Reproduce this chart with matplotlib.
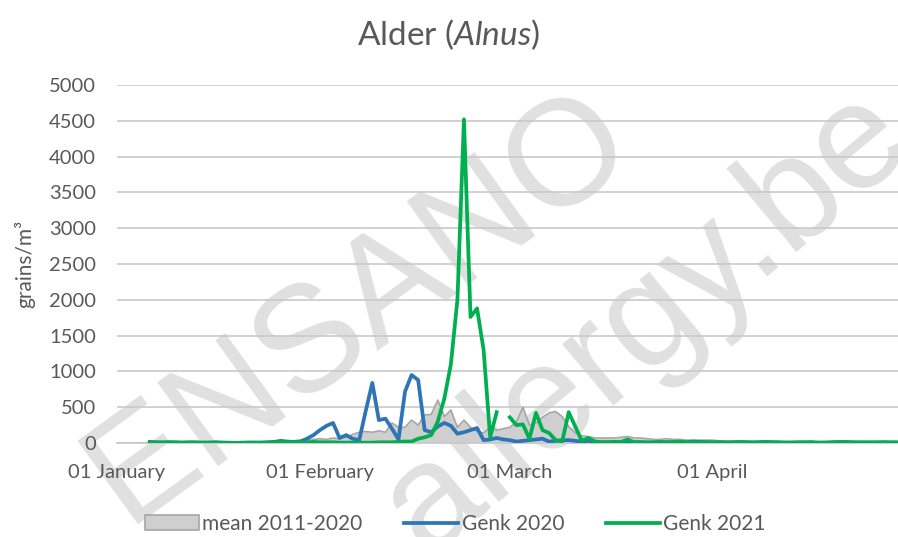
import numpy as np
import matplotlib
matplotlib.use("Agg")
import matplotlib.pyplot as plt
from matplotlib.patches import Patch
from matplotlib.lines import Line2D

plt.rcParams['font.family'] = ['Lato', 'DejaVu Sans']
plt.rcParams['mathtext.fontset'] = 'custom'
plt.rcParams['mathtext.rm'] = 'Lato'
plt.rcParams['mathtext.it'] = 'Lato:italic'

# day index 0 = 1 January (leap-year calendar as on the axis)
days = np.arange(120)
tick_days = [0, 31, 60, 91]
tick_labels = ["01 January", "01 February", "01 March", "01 April"]

mean_2011_2020 = [
    0, 0, 0, 0, 0, 5, 5, 5, 5, 5,
    5, 5, 5, 5, 5, 5, 5, 5, 5, 5,
    5, 10, 10, 15, 20, 25, 20, 30, 40, 40,
    50, 60, 50, 70, 60, 80, 120, 150, 160, 150,
    170, 150, 280, 220, 220, 320, 250, 390, 400, 600,
    370, 460, 220, 320, 220, 160, 140, 220, 180, 200,
    220, 290, 500, 250, 280, 360, 420, 440, 370, 230,
    140, 100, 90, 70, 70, 70, 70, 80, 90, 70,
    70, 60, 50, 50, 60, 50, 50, 40, 40, 40,
    40, 40, 30, 30, 30, 30, 30, 25, 25, 25,
    20, 20, 20, 20, 20, 20, 15, 15, 15, 15,
    15, 15, 10, 10, 10, 10, 10, 10, 10, 10,
]

genk_2020 = [
    None, None, None, None, None, 15, 10, 5, 10, 10,
    5, 5, 5, 5, 5, 10, 5, 0, 0, 5,
    5, 5, 5, 10, 15, 30, 20, 15, 20, 60,
    110, 180, 240, 280, 70, 110, 60, 40, 450, 840,
    320, 340, 200, 50, 720, 950, 880, 180, 150, 230,
    280, 240, 130, 150, 180, 210, 40, 50, 70, 50,
    40, 20, 30, 40, 50, 60, 20, 30, 40, 40,
    30, 20, 30, 20, 10, 10, 15, 10, 20, 10,
    10, 5, 10, 15, 10, 10, 5, 10, 20, 15,
    10, 5, 10, 5, 5, 10, 5, 5, 10, 15,
    10, 5, 5, 5, 5, 5, 10, 5, 5, 5,
    10, 15, 10, 5, 5, 5, 5, 10, 5, 5,
]

genk_2021 = [
    None, None, None, None, None, 10, 5, 10, 10, 5,
    5, 10, 10, 5, 5, 5, 5, 5, 0, 0,
    5, 5, 5, 5, 10, 15, 10, 10, 10, 10,
    15, 10, 10, 10, 5, 5, 5, 5, 5, 5,
    10, 10, 10, 15, 20, 20, 60, 80, 110, 300,
    620, 1100, 2000, 4520, 1760, 1880, 1300, 80, 430, None,
    360, 250, 260, 60, 420, 180, 140, 40, 20, 430,
    230, 30, 70, 20, 10, 10, 10, 15, 50, 10,
    10, 10, 5, 10, 10, 15, 20, 10, 10, 10,
    10, 10, 10, 5, 5, 10, 10, 5, 5, 10,
    10, 10, 5, 5, 10, 10, 10, 5, 5, 10,
    15, 10, 10, 10, 10, 10, 10, 10, 10, 10,
]

mean_vals = np.array(mean_2011_2020, dtype=float)
g20 = np.array(genk_2020, dtype=float)
g21 = np.array(genk_2021, dtype=float)

txt = '#595959'
fig = plt.figure(figsize=(8.98, 5.37), dpi=100)
ax = fig.add_axes([117 / 898, 1 - 443 / 537, 1 - 117 / 898, (443 - 85) / 537])
ax.patch.set_alpha(0)

# watermark
fig.text(0.40, 0.43, "ENSANO", rotation=36, fontsize=108, color='#e0e0e0',
         family='Liberation Sans', ha='center', va='center', zorder=-5)
fig.text(0.72, 0.40, "allergy.be", rotation=40, fontsize=108, color='#e0e0e0',
         family='Liberation Sans', ha='center', va='center', zorder=-5)

ax.fill_between(days, 0, mean_vals, color='#cfcfcf', linewidth=0, zorder=2)
ax.plot(days, mean_vals, color='#a6a6a6', linewidth=1.2, zorder=2)
ax.plot(days, g20, color='#2e75b6', linewidth=2.7, zorder=3)
ax.plot(days, g21, color='#00b050', linewidth=2.7, zorder=4)

ax.set_xlim(0, 119.3)
ax.set_ylim(0, 5000)
ax.set_yticks(np.arange(0, 5001, 500))
ax.yaxis.grid(True, color='#c9c9c9', linewidth=1.2)
ax.set_axisbelow(True)
ax.set_xticks(tick_days)
ax.set_xticklabels(tick_labels)
ax.tick_params(axis='both', length=0, labelsize=14.5, labelcolor=txt)
ax.tick_params(axis='y', pad=15)
ax.tick_params(axis='x', pad=15)
for s in ['top', 'right', 'left']:
    ax.spines[s].set_visible(False)
ax.spines['bottom'].set_color('#c9c9c9')
ax.spines['bottom'].set_linewidth(1.2)

ax.set_ylabel('grains/m³', fontsize=15, color=txt)
ax.yaxis.set_label_coords(-0.105, 0.5)

fig.text(0.5, 1 - 35 / 537, 'Alder ($\\mathit{Alnus}$)', fontsize=24,
         color=txt, ha='center', va='center')

handles = [
    Patch(facecolor='#cfcfcf', edgecolor='#a6a6a6', linewidth=1.2),
    Line2D([], [], color='#2e75b6', linewidth=2.7),
    Line2D([], [], color='#00b050', linewidth=2.7),
]
fig.legend(handles, ['mean 2011-2020', 'Genk 2020', 'Genk 2021'],
           loc='center', bbox_to_anchor=(0.507, 1 - 524 / 537), ncol=3,
           frameon=False, fontsize=15, labelcolor=txt, handlelength=2.6,
           handletextpad=0.15, columnspacing=2.0)

fig.savefig('out.png', dpi=100)
